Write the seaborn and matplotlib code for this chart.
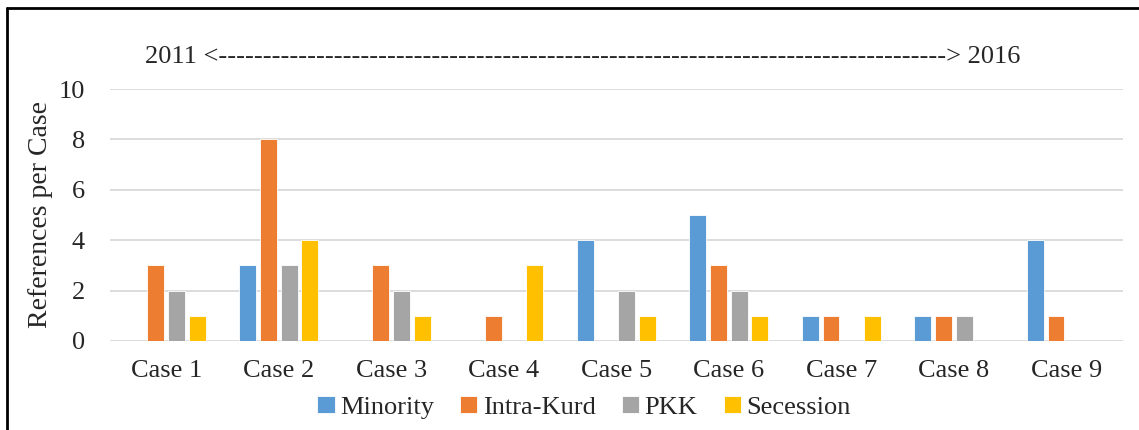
import pandas as pd
import numpy as np
import matplotlib.pyplot as plt
import seaborn as sns

cases = ['Case 1', 'Case 2', 'Case 3', 'Case 4', 'Case 5', 'Case 6', 'Case 7', 'Case 8', 'Case 9']
minority = [0, 3, 0, 0, 4, 5, 1, 1, 4]
intra_kurd = [3, 8, 3, 1, 0, 3, 1, 1, 1]
pkk = [2, 3, 2, 0, 2, 2, 0, 1, 0]
secession = [1, 4, 1, 3, 1, 1, 1, 0, 0]
series = ['Minority', 'Intra-Kurd', 'PKK', 'Secession']
colors = ['#5B9BD5', '#ED7D31', '#A5A5A5', '#FFC000']

df = pd.DataFrame({'Case': cases, 'Minority': minority, 'Intra-Kurd': intra_kurd,
                   'PKK': pkk, 'Secession': secession})
df = df.melt(id_vars='Case', var_name='Series', value_name='Count')

sns.set_style('white')
plt.rcParams['font.family'] = ['Liberation Serif', 'DejaVu Serif']

fig = plt.figure(figsize=(11.39, 4.30), dpi=100)
ax = fig.add_axes([0.0966, 0.207, 0.889, 0.586])

sns.barplot(data=df, x='Case', y='Count', hue='Series', hue_order=series,
            palette=colors, width=0.735, gap=0.18, linewidth=0.6, edgecolor='white',
            saturation=1, ax=ax)

ax.set_ylim(0, 10)
ax.set_yticks([0, 2, 4, 6, 8, 10])
ax.yaxis.grid(True, color='#D9D9D9', linewidth=1.3)
ax.set_axisbelow(True)
for s in ax.spines.values():
    s.set_visible(False)
ax.tick_params(axis='both', labelsize=19, length=0)
ax.tick_params(axis='y', pad=18)
ax.tick_params(axis='x', pad=14)
ax.set_xlabel('')
ax.set_ylabel('References per Case', fontsize=20, labelpad=4)

handles, labels = ax.get_legend_handles_labels()
ax.legend(handles, labels, loc='center', bbox_to_anchor=(0.468, -0.263), ncol=4,
          frameon=False, fontsize=19, handlelength=0.65, handleheight=0.65,
          handletextpad=0.2, columnspacing=1.0, borderaxespad=0)

fig.text(0.127, 0.867, '2011 <' + '-' * 82 + '> 2016', fontsize=19, va='center', ha='left')

# outer frame (left and top edges visible)
fig.add_artist(plt.Line2D([0.0062, 0.0062], [0, 0.981], color='black', linewidth=2,
                          transform=fig.transFigure))
fig.add_artist(plt.Line2D([0.0062, 1.0], [0.981, 0.981], color='black', linewidth=2,
                          transform=fig.transFigure))

fig.savefig('out.png', dpi=100)
